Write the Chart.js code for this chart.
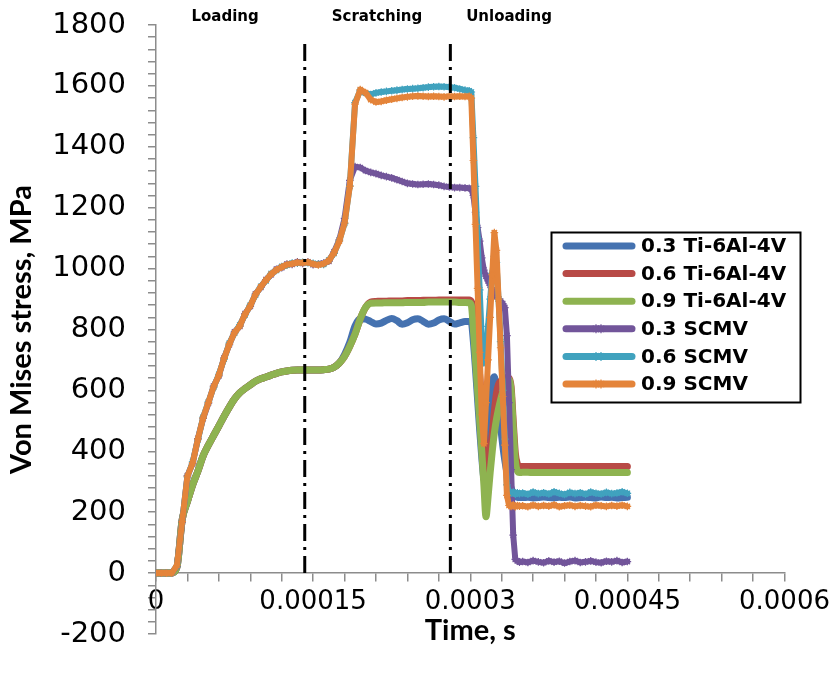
<!DOCTYPE html>
<html>
<head>
<meta charset="utf-8">
<title>Von Mises stress vs time</title>
<script src="https://cdn.jsdelivr.net/npm/chart.js@4.4.1/dist/chart.umd.min.js"></script>
<style>
  html, body { margin: 0; padding: 0; background: #fff; }
  canvas { display: block; }
</style>
</head>
<body>
<canvas id="chart" width="836" height="676"></canvas>
<script>
// Sampling instants in microseconds (the axis is labelled in seconds).
const timeUs = [
  0, 5, 10, 15, 20, 25, 30, 35, 40, 45, 50, 55, 60, 65, 70, 75, 80, 85, 90, 95,
  100, 105, 110, 115, 120, 125, 130, 135, 140, 145, 150, 155, 160, 165, 170, 175, 180, 185, 190, 195,
  200, 205, 210, 215, 220, 225, 230, 235, 240, 245, 250, 255, 260, 265, 270, 275, 280, 285, 290, 295,
  299, 301, 303, 305, 307, 309, 311, 313, 315, 317, 319, 321, 323, 325, 327, 329, 331, 333, 335, 337,
  339, 341, 343, 345, 347,
  350, 355, 360, 365, 370, 375, 380, 385, 390, 395, 400, 405, 410, 415, 420, 425, 430, 435, 440, 445, 450
];

// Von Mises stress (MPa), Ti-6Al-4V at three depths
const ti03 = [
  0, 0, 0, 0, 20, 175, 235, 290, 335, 385, 420, 452, 483, 515, 545, 572, 592, 606, 618, 630,
  638, 644, 650, 656, 661, 664, 666, 667, 667, 667, 667, 667, 668, 670, 676, 690, 718, 758, 812, 835,
  834, 826, 818, 821, 830, 836, 829, 817, 822, 832, 835, 827, 817, 821, 831, 835, 827, 818, 822, 826,
  826, 822, 760, 670, 570, 470, 380, 310, 300, 400, 520, 630, 645, 600, 540, 480, 420, 370, 330, 300,
  280, 262, 252, 249, 248,
  248, 249, 247, 248, 250, 248, 247, 249, 248, 250, 247, 248, 249, 248, 247, 250, 248, 249, 247, 248, 249
];
const ti06 = [
  0, 0, 0, 0, 20, 175, 235, 290, 335, 385, 420, 452, 483, 515, 545, 572, 592, 606, 618, 630,
  638, 644, 650, 656, 661, 664, 666, 667, 667, 667, 667, 667, 668, 670, 676, 690, 712, 745, 785, 835,
  872, 890, 892, 893, 893, 894, 894, 894, 895, 895, 895, 896, 896, 896, 897, 897, 897, 897, 897, 897,
  897, 892, 860, 800, 730, 650, 560, 460, 340, 290, 380, 460, 530, 590, 620, 630, 636, 640, 642, 640,
  612, 500, 395, 358, 351,
  350, 350, 350, 350, 350, 350, 350, 350, 350, 350, 350, 350, 350, 350, 350, 350, 350, 350, 350, 350, 350
];
const ti09 = [
  0, 0, 0, 0, 20, 175, 235, 290, 335, 385, 420, 452, 483, 515, 545, 572, 592, 606, 618, 630,
  638, 644, 650, 656, 661, 664, 666, 667, 667, 667, 667, 667, 668, 670, 676, 690, 712, 745, 785, 835,
  872, 886, 887, 887, 888, 888, 888, 888, 889, 889, 889, 889, 890, 890, 890, 890, 890, 890, 889, 889,
  888, 880, 800, 700, 600, 500, 400, 290, 185, 250, 330, 400, 460, 505, 540, 570, 595, 615, 628, 635,
  600, 480, 370, 335, 330,
  331, 331, 330, 330, 330, 330, 330, 330, 330, 330, 330, 330, 330, 330, 330, 330, 330, 330, 330, 330, 330
];

// Von Mises stress (MPa), SCMV at three depths
const scmv03 = [
  0, 0, 0, 0, 23, 168, 320, 360, 442, 508, 558, 614, 648, 707, 750, 792, 810, 852, 876, 917,
  938, 964, 980, 998, 1003, 1015, 1014, 1022, 1017, 1022, 1013, 1015, 1018, 1024, 1055, 1095, 1165, 1290, 1335, 1332,
  1322, 1316, 1312, 1306, 1302, 1298, 1292, 1286, 1280, 1278, 1276, 1277, 1278, 1276, 1274, 1270, 1268, 1266, 1266, 1265,
  1264, 1262, 1240, 1185, 1135, 1090, 1035, 995, 975, 960, 945, 930, 918, 908, 900, 893, 885, 872, 780, 560,
  340, 125, 45, 40, 36,
  38, 35, 41, 37, 34, 40, 36, 39, 33, 38, 41, 35, 37, 40, 36, 34, 39, 37, 41, 35, 38
];
const scmv06 = [
  0, 0, 0, 0, 24, 172, 316, 365, 438, 512, 562, 610, 653, 703, 755, 788, 815, 848, 880, 913,
  942, 960, 984, 994, 1007, 1011, 1018, 1018, 1021, 1019, 1017, 1014, 1014, 1028, 1050, 1092, 1148, 1272, 1545, 1585,
  1576, 1572, 1577, 1580, 1582, 1584, 1586, 1588, 1590, 1591, 1592, 1594, 1596, 1597, 1598, 1597, 1596, 1594, 1590, 1586,
  1584, 1580, 1430, 1270, 1100, 930, 770, 690, 720, 810, 900, 985, 1040, 1020, 900, 760, 600, 440, 290, 266,
  262, 266, 259, 264, 261,
  263, 259, 266, 261, 264, 260, 267, 262, 258, 265, 261, 264, 259, 266, 262, 260, 265, 261, 263, 267, 262
];
const scmv09 = [
  0, 0, 0, 0, 25, 170, 318, 362, 440, 510, 560, 612, 650, 705, 752, 790, 812, 850, 878, 915,
  940, 962, 982, 996, 1005, 1013, 1016, 1020, 1019, 1021, 1015, 1012, 1016, 1026, 1052, 1090, 1150, 1270, 1540, 1588,
  1578, 1555, 1547, 1549, 1553, 1556, 1559, 1562, 1564, 1566, 1567, 1566, 1565, 1566, 1565, 1564, 1566, 1565, 1566, 1565,
  1566, 1560, 1355, 1145, 935, 725, 520, 425, 560, 700, 840, 980, 1118, 1060, 900, 740, 580, 420, 255, 222,
  219, 224, 218, 222, 220,
  221, 218, 223, 219, 222, 220, 224, 218, 221, 223, 219, 222, 220, 218, 223, 221, 219, 222, 220, 223, 219
];

const seriesLabels = ['0.3 Ti-6Al-4V', '0.6 Ti-6Al-4V', '0.9 Ti-6Al-4V', '0.3 SCMV', '0.6 SCMV', '0.9 SCMV'];

// Phase boundaries (µs) and the stress (MPa) where the marker lines stop
const phaseBoundaryUs = [142, 281];
const phaseLineTop = 1740;
const phaseNames = ['Loading', 'Scratching', 'Unloading'];

// Axis tick label spacing
const xTickStepUs = 150;
const yTickStep = 200;

const COLORS = {
  ti03: '#4572B0', ti06: '#B84A46', ti09: '#8EB350',
  scmv03: '#72559A', scmv06: '#40A2BE', scmv09: '#E4843A'
};
const AXIS_GREY = '#8C8C8C';

function toPoints(values) {
  return timeUs.map((t, i) => ({ x: t, y: values[i] }));
}

function tiDataset(label, values, color, order) {
  return {
    label, data: toPoints(values), borderColor: color, backgroundColor: color,
    borderWidth: 7, pointRadius: 0, cubicInterpolationMode: 'monotone',
    borderCapStyle: 'round', borderJoinStyle: 'round', order, showInKey: true, marker: false
  };
}
function scmvDataset(label, values, color, order) {
  return {
    label, data: toPoints(values), borderColor: color, backgroundColor: color,
    borderWidth: 6, tension: 0, pointStyle: 'star', pointRadius: 3.8,
    pointBorderWidth: 1.2, pointBorderColor: color, pointBackgroundColor: color,
    borderCapStyle: 'round', borderJoinStyle: 'round', order, showInKey: true, marker: true
  };
}
function phaseDataset(t) {
  return {
    label: 'phase', data: [{ x: t, y: 0 }, { x: t, y: phaseLineTop }],
    borderColor: '#000', borderWidth: 3, borderDash: [17, 6, 3, 6],
    pointRadius: 0, order: 0, showInKey: false
  };
}

function formatSeconds(us) {
  if (us === 0) return '0';
  return String(Number((us * 1e-6).toPrecision(4)));
}

// Phase captions and the legend box
const annotations = {
  id: 'annotations',
  afterDraw(chart) {
    const ctx = chart.ctx;
    const xs = chart.scales.x;
    ctx.save();

    // phase captions above the plot
    const captionCentersUs = [66, 211, 337];
    ctx.font = 'bold 15px "DejaVu Sans"';
    ctx.fillStyle = '#000';
    ctx.textAlign = 'center';
    ctx.textBaseline = 'middle';
    phaseNames.forEach((name, i) => {
      ctx.fillText(name, xs.getPixelForValue(captionCentersUs[i]), 17);
    });

    // legend
    const box = { x: 551, y: 232, w: 249, h: 170 };
    ctx.fillStyle = '#fff';
    ctx.fillRect(box.x, box.y, box.w, box.h);
    ctx.strokeStyle = '#000';
    ctx.lineWidth = 2;
    ctx.strokeRect(box.x + 0.5, box.y + 0.5, box.w, box.h);

    const items = chart.data.datasets.filter(d => d.showInKey);
    const rowStart = 246, rowGap = 27.6;
    ctx.font = 'bold 20px "DejaVu Sans"';
    ctx.textAlign = 'left';
    items.forEach((d, i) => {
      const y = rowStart + i * rowGap;
      ctx.strokeStyle = d.borderColor;
      ctx.lineWidth = 7;
      ctx.lineCap = 'round';
      ctx.beginPath();
      ctx.moveTo(566, y);
      ctx.lineTo(632, y);
      ctx.stroke();
      if (d.marker) {
        ctx.lineWidth = 1.2;
        ctx.lineCap = 'butt';
        [596, 601].forEach(mx => {
          Chart.helpers.drawPoint(ctx, { pointStyle: 'star', radius: 4.5, borderWidth: 1.2 }, mx, y);
        });
      }
      ctx.fillStyle = '#000';
      ctx.fillText(d.label, 641, y + 1);
    });
    ctx.restore();
  }
};

new Chart(document.getElementById('chart'), {
  type: 'line',
  data: {
    datasets: [
      tiDataset(seriesLabels[0], ti03, COLORS.ti03, 6),
      tiDataset(seriesLabels[1], ti06, COLORS.ti06, 5),
      tiDataset(seriesLabels[2], ti09, COLORS.ti09, 4),
      scmvDataset(seriesLabels[3], scmv03, COLORS.scmv03, 3),
      scmvDataset(seriesLabels[4], scmv06, COLORS.scmv06, 2),
      scmvDataset(seriesLabels[5], scmv09, COLORS.scmv09, 1),
      ...phaseBoundaryUs.map(phaseDataset)
    ]
  },
  options: {
    responsive: false,
    animation: false,
    events: [],
    layout: { padding: { top: 25, right: 50, bottom: 42, left: 0 } },
    plugins: { legend: { display: false }, tooltip: { enabled: false } },
    scales: {
      x: {
        type: 'linear', min: 0, max: 600,
        position: { y: 0 },
        border: { color: AXIS_GREY, width: 1.5 },
        grid: { drawOnChartArea: false, drawTicks: true, tickLength: 8, color: AXIS_GREY, lineWidth: 1.5 },
        ticks: {
          stepSize: 30, autoSkip: false, maxRotation: 0, minRotation: 0, padding: 6,
          color: '#000', font: { family: 'DejaVu Sans', size: 26 },
          callback: v => (v % xTickStepUs === 0 ? formatSeconds(v) : '')
        },
        title: {
          display: true, text: 'Time, s', color: '#000',
          font: { family: 'Lato', weight: 'bold', size: 29 }, padding: { top: -11, bottom: 0 }
        }
      },
      y: {
        type: 'linear', min: -200, max: 1800,
        border: { color: AXIS_GREY, width: 1.5 },
        grid: { drawOnChartArea: false, drawTicks: true, tickLength: 8, color: AXIS_GREY, lineWidth: 1.5 },
        ticks: {
          stepSize: 40, autoSkip: false, padding: 22,
          color: '#000', font: { family: 'DejaVu Sans', size: 29 },
          callback: v => (v % yTickStep === 0 ? String(v) : '')
        },
        title: {
          display: true, text: 'Von Mises stress, MPa', color: '#000',
          font: { family: 'Lato', weight: 'bold', size: 29 }, padding: { top: 4, bottom: 0 }
        },
        afterFit(scale) {
          scale.width = 156;
          scale.paddingTop = 0;
          scale.paddingBottom = 0;
        }
      }
    }
  },
  plugins: [annotations]
});
</script>
</body>
</html>
